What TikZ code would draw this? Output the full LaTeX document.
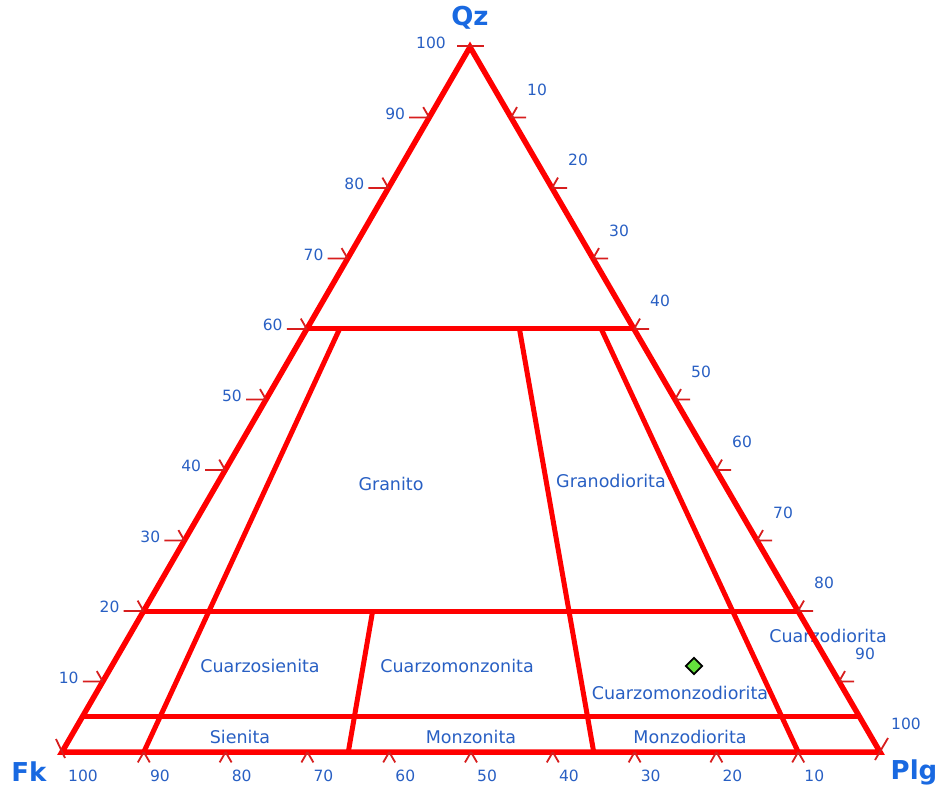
\documentclass[tikz,border=0pt]{standalone}
\usepackage{fontspec}
\setmainfont{DejaVu Sans}
\usepackage{tikz}
\usetikzlibrary{shapes.geometric, calc}
\definecolor{fieldred}{RGB}{255,0,0}
\definecolor{tickred}{RGB}{215,30,30}
\definecolor{labblue}{RGB}{40,95,195}
\definecolor{apexblue}{RGB}{25,105,225}
\definecolor{dotgreen}{RGB}{100,225,60}

\begin{document}
\begin{tikzpicture}[
  x=1pt, y=-1pt,
  side/.style ={draw=fieldred, line width=5.5pt, line join=miter},
  field/.style={draw=fieldred, line width=5pt},
  tick/.style ={draw=tickred, line width=1.8pt},
  num/.style  ={text=labblue, font=\fontsize{15.5}{18}\selectfont, inner sep=0pt},
  rock/.style ={text=labblue, font=\fontsize{17.5}{20}\selectfont, inner sep=0pt},
  apex/.style ={text=apexblue, font=\fontsize{26}{28}\selectfont\bfseries, inner sep=0pt}
]
\useasboundingbox (0,0) rectangle (941,789);

%% ---- corners ----
\coordinate (Q) at (470,47);
\coordinate (F) at (62,752);
\coordinate (P) at (880,752);
\node[apex] (QzLab)  at (470,18)  {Qz};
\node[apex] (FkLab)  at (29,772)  {Fk};
\node[apex] (PlgLab) at (914,772) {Plg};

%% ---- field names ----
\node[rock] (gra)  at (391,484) {Granito};
\node[rock] (grd)  at (611,481) {Granodiorita};
\node[rock] (qsy)  at (260,666) {Cuarzosienita};
\node[rock] (qmz)  at (457,666) {Cuarzomonzonita};
\node[rock] (qmd)  at (680,693) {Cuarzomonzodiorita};
\node[rock] (qdi)  at (828,636) {Cuarzodiorita};
\node[rock] (sye)  at (240,737) {Sienita};
\node[rock] (mzn)  at (471,737) {Monzonita};
\node[rock] (mzd)  at (690,737) {Monzodiorita};

%% ---- field boundaries ----
\coordinate (q60l) at (barycentric cs:Q=0.6,F=0.4);
\coordinate (q60r) at (barycentric cs:Q=0.6,P=0.4);
\coordinate (q20l) at (barycentric cs:Q=0.2,F=0.8);
\coordinate (q20r) at (barycentric cs:Q=0.2,P=0.8);
\coordinate (q5l)  at (barycentric cs:Q=0.05,F=0.95);
\coordinate (q5r)  at (barycentric cs:Q=0.05,P=0.95);
\coordinate (r10t) at (barycentric cs:Q=0.6,F=0.36,P=0.04);
\coordinate (r10b) at (barycentric cs:F=0.9,P=0.1);
\coordinate (r35t) at (barycentric cs:Q=0.2,F=0.52,P=0.28);
\coordinate (r35b) at (barycentric cs:F=0.65,P=0.35);
\coordinate (r65t) at (barycentric cs:Q=0.6,F=0.14,P=0.26);
\coordinate (r65b) at (barycentric cs:F=0.35,P=0.65);
\coordinate (r90t) at (barycentric cs:Q=0.6,F=0.04,P=0.36);
\coordinate (r90b) at (barycentric cs:F=0.1,P=0.9);

\draw[field] (q60l) -- (q60r);
\draw[field] (q20l) -- (q20r);
\draw[field] (q5l)  -- (q5r);
\draw[field] (r10t) -- (r10b);
\draw[field] (r35t) -- (r35b);
\draw[field] (r65t) -- (r65b);
\draw[field] (r90t) -- (r90b);
\draw[side] (Q) -- (F) -- (P) -- cycle;

%% ---- scale ticks ----
\foreach \v in {10,20,...,90}{
  \pgfmathsetmacro{\a}{\v/100}
  \pgfmathsetmacro{\b}{1-\a}
  \coordinate (lq) at (barycentric cs:Q=\a,F=\b);
  \coordinate (rp) at (barycentric cs:Q=\b,P=\a);
  \coordinate (bf) at (barycentric cs:F=\a,P=\b);
  \draw[tick] (lq) -- ++(-20,0) (lq) -- ++(-6,-10.4);
  \draw[tick] (rp) -- ++(15,0)  (rp) -- ++(6,-10.4);
  \draw[tick] (bf) -- ++(-6,10.4) (bf) -- ++(6,10.4);
}
\draw[tick] ($(Q)+(-13,-1)$) -- ($(Q)+(14,-1)$);
\draw[tick] ($(F)+(-6,-13)$) -- ($(F)+(3,6)$);
\draw[tick] ($(P)+(8,-14)$) -- ($(P)+(-5,8)$);

%% ---- scale numbers ----
\foreach \v in {10,20,...,100}{
  \pgfmathsetmacro{\a}{\v/100}
  \pgfmathsetmacro{\b}{1-\a}
  \node[num, anchor=east] (nq\v) at ($(barycentric cs:Q=\a,F=\b)+(-24,-4)$) {\v};
  \node[num]              (np\v) at ($(barycentric cs:Q=\b,P=\a)+(26,-28)$) {\v};
  \node[num, anchor=west] (nf\v) at ($(barycentric cs:F=\a,P=\b)+(6,24)$) {\v};
}

%% ---- sample point ----
\node[diamond, draw=black, line width=1.8pt, fill=dotgreen,
      minimum size=17pt, inner sep=0pt] (sample) at (694,666) {};

\end{tikzpicture}
\end{document}
